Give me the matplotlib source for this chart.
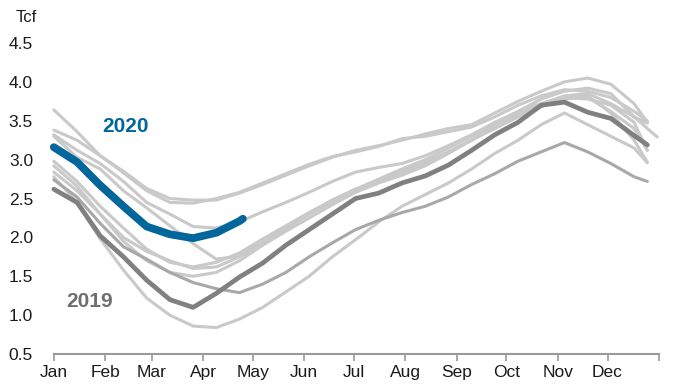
import matplotlib
matplotlib.use("Agg")
import matplotlib.pyplot as plt

plt.rcParams['font.family'] = ['Liberation Sans', 'DejaVu Sans']

# day of year for each reading (roughly every two weeks)
days = [0, 14, 28, 42, 56, 70, 84, 98, 112, 126, 140, 154, 168, 182,
        196, 210, 224, 238, 252, 266, 280, 294, 308, 322, 336, 350, 358]
days_long = days[:-1] + [364]

# storage, Tcf, prior years (light grey)
s2016 = [3.64, 3.36, 3.05, 2.85, 2.63, 2.50, 2.48, 2.48, 2.57, 2.68, 2.80, 2.92, 3.03, 3.12,
         3.18, 3.25, 3.33, 3.40, 3.45, 3.60, 3.75, 3.88, 4.00, 4.05, 3.97, 3.72, 3.48]
s2012 = [3.38, 3.25, 3.05, 2.83, 2.60, 2.45, 2.44, 2.50, 2.58, 2.70, 2.82, 2.94, 3.04, 3.10,
         3.17, 3.27, 3.30, 3.36, 3.42, 3.55, 3.70, 3.82, 3.90, 3.88, 3.80, 3.62, 3.50]
s2013 = [3.30, 3.03, 2.88, 2.60, 2.38, 2.15, 1.92, 1.72, 1.76, 1.95, 2.12, 2.30, 2.45, 2.60,
         2.72, 2.85, 2.97, 3.10, 3.25, 3.40, 3.55, 3.68, 3.80, 3.82, 3.60, 3.25, 2.97]
s2017 = [3.32, 3.12, 2.95, 2.72, 2.45, 2.30, 2.14, 2.12, 2.20, 2.33, 2.45, 2.58, 2.72, 2.84,
         2.90, 2.95, 3.05, 3.18, 3.32, 3.48, 3.62, 3.72, 3.80, 3.78, 3.70, 3.48, 3.12]
s2011 = [2.98, 2.72, 2.40, 2.12, 1.85, 1.68, 1.62, 1.68, 1.80, 1.98, 2.15, 2.32, 2.48, 2.62,
         2.75, 2.88, 3.00, 3.15, 3.30, 3.45, 3.60, 3.72, 3.82, 3.85, 3.72, 3.55, 3.47]
s2010 = [2.92, 2.66, 2.30, 2.00, 1.82, 1.70, 1.60, 1.62, 1.75, 1.92, 2.12, 2.30, 2.48, 2.62,
         2.72, 2.83, 2.95, 3.10, 3.25, 3.42, 3.58, 3.70, 3.78, 3.80, 3.62, 3.40, 3.12]
s2015 = [2.84, 2.60, 2.30, 1.95, 1.70, 1.55, 1.50, 1.55, 1.70, 1.90, 2.08, 2.25, 2.42, 2.58,
         2.70, 2.80, 2.92, 3.08, 3.25, 3.45, 3.62, 3.78, 3.88, 3.92, 3.85, 3.55, 3.29]
s2014 = [2.78, 2.45, 1.98, 1.58, 1.22, 1.00, 0.86, 0.84, 0.95, 1.10, 1.30, 1.50, 1.75, 1.97,
         2.20, 2.40, 2.55, 2.70, 2.88, 3.08, 3.25, 3.45, 3.60, 3.45, 3.30, 3.15, 2.96]
s2018 = [2.74, 2.52, 2.18, 1.88, 1.72, 1.55, 1.42, 1.34, 1.29, 1.40, 1.55, 1.75, 1.93, 2.10,
         2.22, 2.32, 2.40, 2.52, 2.68, 2.82, 2.98, 3.10, 3.22, 3.10, 2.95, 2.78, 2.72]

s2019 = [2.62, 2.45, 2.02, 1.75, 1.45, 1.20, 1.10, 1.28, 1.49, 1.67, 1.90, 2.10, 2.30, 2.50,
         2.57, 2.70, 2.79, 2.93, 3.12, 3.32, 3.48, 3.70, 3.74, 3.61, 3.53, 3.31, 3.19]
days_2020 = [0, 14, 28, 42, 56, 70, 84, 98, 112, 114]
s2020 = [3.16, 2.97, 2.67, 2.40, 2.14, 2.04, 1.99, 2.06, 2.21, 2.24]

month_starts = [0, 31, 59, 90, 120, 151, 181, 212, 243, 273, 304, 334, 365]
month_labels = ['Jan', 'Feb', 'Mar', 'Apr', 'May', 'Jun', 'Jul', 'Aug', 'Sep', 'Oct', 'Nov', 'Dec', '']
yticks = [0.5, 1.0, 1.5, 2.0, 2.5, 3.0, 3.5, 4.0, 4.5]

fig = plt.figure(figsize=(6.9, 3.84), dpi=100)
ax = fig.add_axes([0.078, 0.078, 0.877, 0.81])

light = '#c9c9c9'
for s in [s2016, s2012, s2013, s2017, s2011, s2010, s2014]:
    ax.plot(days, s, color=light, lw=2.2, solid_capstyle='round', clip_on=False)
ax.plot(days_long, s2015, color=light, lw=2.2, solid_capstyle='round', clip_on=False)
ax.plot(days, s2018, color='#a8a8a8', lw=2.2, solid_capstyle='round', clip_on=False)
ax.plot(days, s2019, color='#808080', lw=3.4, solid_capstyle='round', clip_on=False)
ax.plot(days_2020, s2020, color='#00669c', lw=5.6, solid_capstyle='round', clip_on=False)

ax.text(43, 3.43, '2020', color='#00669c', fontsize=15, fontweight='bold', ha='center', va='center')
ax.text(21.5, 1.17, '2019', color='#6e6e6e', fontsize=15, fontweight='bold', ha='center', va='center')

ax.set_xlim(0, 365)
ax.set_ylim(0.5, 4.5)
ax.set_xticks(month_starts)
ax.set_xticklabels(month_labels)
ax.set_yticks(yticks)
ax.set_yticklabels([f'{v:.1f}' for v in yticks])

for side in ['top', 'right', 'left']:
    ax.spines[side].set_visible(False)
ax.spines['bottom'].set_color('#999999')
ax.spines['bottom'].set_linewidth(1.5)
ax.tick_params(axis='x', direction='out', length=5, width=1.2, color='#999999',
               labelsize=12.5, labelcolor='#1a1a1a', pad=3)
ax.tick_params(axis='y', length=0, labelsize=12.5, labelcolor='#1a1a1a', pad=15)

fig.text(0.022, 0.955, 'Tcf', fontsize=12, color='#1a1a1a', ha='left', va='center')

fig.savefig('out.png', dpi=100)
